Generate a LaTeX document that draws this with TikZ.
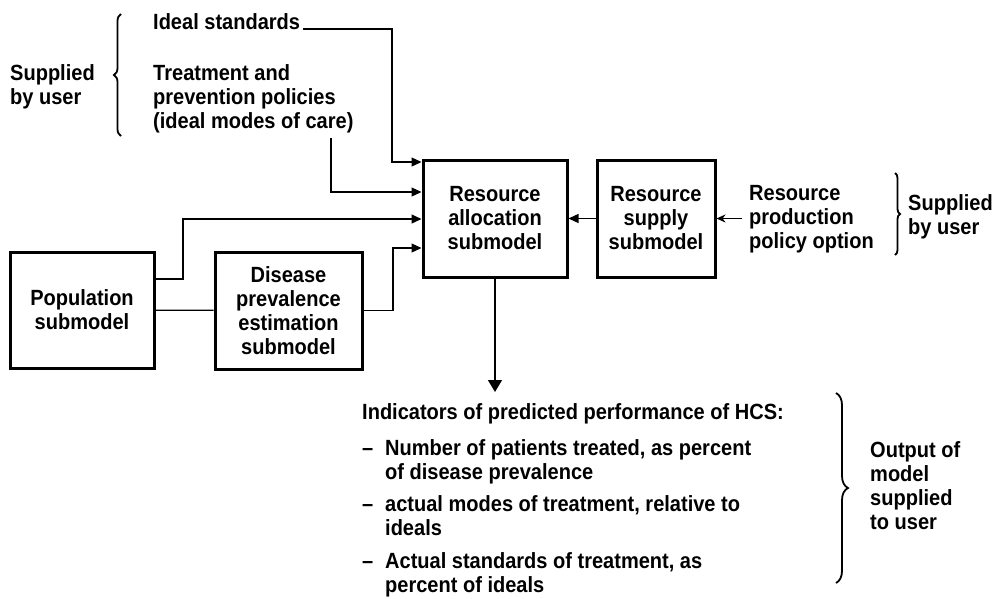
\documentclass[tikz,border=0pt]{standalone}
\usepackage{fontspec}
\setmainfont{Liberation Sans}[FakeStretch=0.91]
\usetikzlibrary{arrows.meta,decorations.pathreplacing}
\begin{document}
\begin{tikzpicture}[x=1pt,y=-1pt,
  every node/.style={font=\fontsize{22}{24}\selectfont\bfseries, inner sep=0pt},
  txt/.style={align=left, anchor=base west},
  box/.style={draw, line width=3pt, align=center},
  conn/.style={line width=1.3pt},
  arr/.style={conn, -{Triangle[length=10pt,width=9pt]}},
  bigarr/.style={conn, -{Triangle[length=12pt,width=14pt]}},
  smallarr/.style={conn, -{Stealth[length=9pt,width=8pt]}},
  brc/.style={decorate, decoration={brace, amplitude=#1}, line width=1.8pt},
  brc/.default=6pt
]
\useasboundingbox (0,0) rectangle (1005,598);

% boxes
\node[box, minimum width=144pt, minimum height=116pt] (pop) at (82,310) {Population\\submodel};
\node[box, minimum width=147pt, minimum height=117pt] (dis) at (288.5,310.5) {Disease\\prevalence\\estimation\\submodel};
\node[box, minimum width=144pt, minimum height=117pt] (ra) at (495,218.5) {Resource\\allocation\\submodel};
\node[box, minimum width=118pt, minimum height=117pt] (rs) at (656,218.5) {Resource\\supply\\submodel};

% texts (anchored at the baseline of their last line)
\node[txt] (sup1) at (10,104) {Supplied\\by user};
\node[txt] (ideal) at (153,29) {Ideal standards};
\node[txt] (treat) at (153,128) {Treatment and\\prevention policies\\(ideal modes of care)};
\node[txt] (rpp) at (749,248) {Resource\\production\\policy option};
\node[txt] (sup2) at (908,234) {Supplied\\by user};
\node[txt] (outp) at (870,529) {Output of\\model\\supplied\\to user};
\node[txt] (ind) at (362,592) {Indicators of predicted performance of HCS:\\[12pt]
\makebox[23pt][l]{–}Number of patients treated, as percent\\
\hspace*{23pt}of disease prevalence\\[8pt]
\makebox[23pt][l]{–}actual modes of treatment, relative to\\
\hspace*{23pt}ideals\\[9pt]
\makebox[23pt][l]{–}Actual standards of treatment, as\\
\hspace*{23pt}percent of ideals};

% braces
\draw[brc=7pt] (121,136) -- (121,14);
\draw[brc=5pt] (895,173) -- (895,255);
\draw[brc=12pt] (836,393) -- (836,583);

% connectors
\coordinate (istart) at (303,29);
\coordinate (tstart) at (331,138);
\coordinate (rstart) at (742,218.5);
\coordinate (otip) at (495,392);

\draw[arr] (istart) -| (392,162) -- (ra.west |- 0,162);
\draw[arr] (tstart) |- (ra.west |- 0,192);
\draw[arr] (pop.east |- 0,279) -- (183,279) |- (ra.west |- 0,219);
\draw[arr] (dis.east) -- (393,310.5) |- (ra.west |- 0,248);
\draw[conn] (pop) -- (dis);
\draw[arr] (rs) -- (ra);
\draw[smallarr] (rstart) -- (rs.east |- rstart);
\draw[bigarr] (ra.south) -- (otip);
\end{tikzpicture}
\end{document}
